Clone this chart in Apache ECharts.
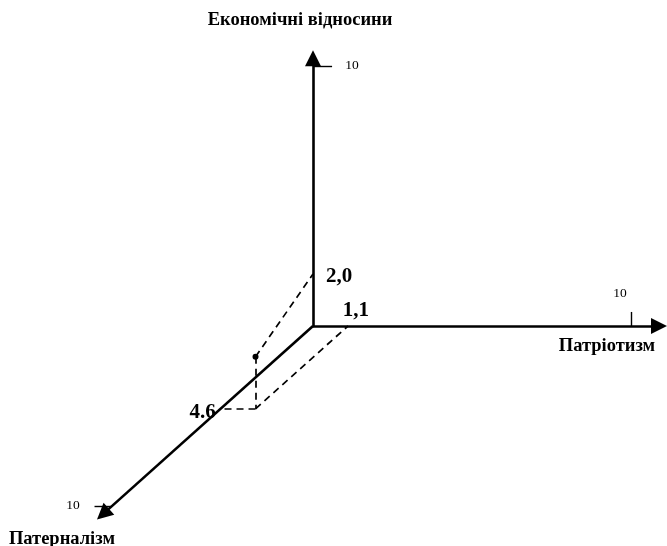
<!DOCTYPE html>
<html>
<head>
<meta charset="utf-8">
<title>Економічні відносини / Патріотизм / Патерналізм</title>
<script src="https://cdn.jsdelivr.net/npm/echarts@6/dist/echarts.min.js"></script>
<style>
  html, body { margin: 0; padding: 0; background: #fff; }
  #chart { width: 667px; height: 546px; }
</style>
</head>
<body>
<div id="chart"></div>
<script>
// axes order: 0 = Патріотизм (horizontal), 1 = Економічні відносини (vertical), 2 = Патерналізм (depth)
const axisNames = ['Патріотизм', 'Економічні відносини', 'Патерналізм']
const tickValues = [10, 10, 10]
const tickLabels = ['10', '10', '10']
const pointValues = [1.1, 2.0, 4.6]
const pointLabels = ['1,1', '2,0', '4.6']

// oblique projection (layout only)
const origin = [313, 326]
const unit = [[31.8, 0], [0, -26], [-20.1, 18]]
const axisEnd = [10.88, 10.3, 10.45]

function proj(v) {
  return [
    origin[0] + v[0] * unit[0][0] + v[1] * unit[1][0] + v[2] * unit[2][0],
    origin[1] + v[0] * unit[0][1] + v[1] * unit[1][1] + v[2] * unit[2][1]
  ]
}
function onAxis(i, val, extra) {
  const v = [0, 0, 0]
  v[i] = val
  if (extra) extra.forEach(([k, d]) => { v[k] += d })
  return v
}

const font = 'Liberation Serif, "Times New Roman", serif'

// axes with arrows
const axisLines = axisNames.map((_, i) => ({ coords: [proj([0, 0, 0]), proj(onAxis(i, axisEnd[i]))] }))

// small ticks at value 10
const tickDir = [[1, 0.54], [0, 0.6], [0, -0.55]]
const tickLines = tickValues.map((t, i) => ({
  coords: [proj(onAxis(i, t)), proj(onAxis(i, t, [tickDir[i]]))]
}))

// dashed box for the point
const P = pointValues
const D = [P[0], P[1], P[2]]
const C = [P[0], 0, P[2]]
const dashLines = [
  { coords: [proj(D), proj(C)] },
  { coords: [proj(C), proj([P[0], 0, 0])] },
  { coords: [proj(C), proj([0, 0, P[2]])] },
  { coords: [proj(D), proj([0, P[1], 0])] }
]

const nameOffset = [[-52, 20], [-13, -38], [-41, 25]]
const tickOffset = [[-11, -33], [39, -1], [-39, -1]]
const valueOffset = [[8, -15], [26, 3], [-18, 4]]

function textPoints(labels, posFn, offsets, size, bold) {
  return labels.map((txt, i) => ({
    value: posFn(i),
    label: {
      show: true,
      formatter: txt,
      position: 'inside',
      offset: offsets[i],
      align: 'center',
      verticalAlign: 'middle',
      fontFamily: font,
      fontSize: size,
      fontWeight: bold ? 'bold' : 'normal',
      color: '#000'
    }
  }))
}

const chart = echarts.init(document.getElementById('chart'))
chart.setOption({
  backgroundColor: '#fff',
  animation: false,
  grid: { left: 0, right: 0, top: 0, bottom: 0 },
  xAxis: { type: 'value', min: 0, max: 667, show: false },
  yAxis: { type: 'value', min: 0, max: 546, inverse: true, show: false },
  series: [
    {
      type: 'lines',
      coordinateSystem: 'cartesian2d',
      silent: true,
      symbol: ['none', 'triangle'],
      symbolSize: 16,
      lineStyle: { color: '#000', width: 2.6, opacity: 1 },
      data: axisLines
    },
    {
      type: 'lines',
      coordinateSystem: 'cartesian2d',
      silent: true,
      lineStyle: { color: '#000', width: 1.4, opacity: 1 },
      data: tickLines
    },
    {
      type: 'lines',
      coordinateSystem: 'cartesian2d',
      silent: true,
      lineStyle: { color: '#000', width: 1.7, type: [7, 5], opacity: 1 },
      data: dashLines
    },
    {
      type: 'scatter',
      silent: true,
      symbolSize: 6,
      itemStyle: { color: '#000', opacity: 1 },
      data: [proj(D)]
    },
    {
      type: 'scatter',
      silent: true,
      symbolSize: 0,
      itemStyle: { color: '#000', opacity: 1 },
      data: [
        ...textPoints(axisNames, i => proj(onAxis(i, axisEnd[i])), nameOffset, 18.5, true),
        ...textPoints(tickLabels, i => proj(onAxis(i, tickValues[i])), tickOffset, 13.5, false),
        ...textPoints(pointLabels, i => proj(onAxis(i, pointValues[i])), valueOffset, 21, true)
      ]
    }
  ]
})
</script>
</body>
</html>
